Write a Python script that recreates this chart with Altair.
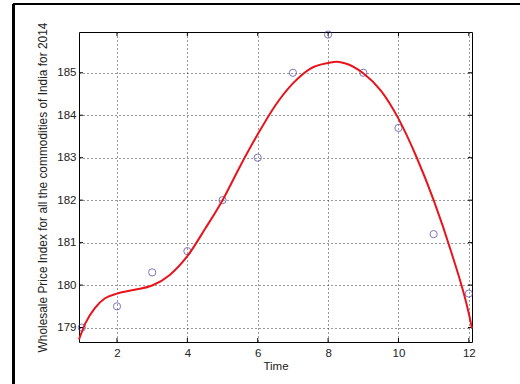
import altair as alt
import pandas as pd

# Observed data (circles)
months = [1, 2, 3, 4, 5, 6, 7, 8, 9, 10, 11, 12]
wpi = [179.0, 179.5, 180.3, 180.8, 182.0, 183.0, 185.0, 185.9, 185.0, 183.7, 181.2, 179.8]

# Fitted curve
curve_x = [0.92, 1.10, 1.37, 1.66, 2.0, 2.5, 3.0, 3.5, 4.0, 4.5, 5.0, 5.5, 6.0, 6.5,
           7.0, 7.5, 8.0, 8.25, 8.5, 9.0, 9.5, 10.0, 10.5, 11.0, 11.5, 12.0, 12.09]
curve_y = [178.72, 179.10, 179.46, 179.69, 179.80, 179.89, 179.99, 180.24, 180.68, 181.32,
           182.0, 182.80, 183.55, 184.23, 184.75, 185.10, 185.23, 185.26, 185.22, 184.99,
           184.58, 183.92, 183.04, 182.0, 180.78, 179.33, 178.98]

x_ticks = [2, 4, 6, 8, 10, 12]
y_ticks = [179, 180, 181, 182, 183, 184, 185]

W, H = 393, 310
FONT = "Liberation Sans"

pts = pd.DataFrame({"Time": months, "WPI": wpi})
fit = pd.DataFrame({"Time": curve_x, "WPI": curve_y})
xt = pd.DataFrame({"t": x_ticks})
yt = pd.DataFrame({"t": y_ticks})

xs = alt.Scale(domain=[0.92, 12.09], nice=False, zero=False)
ys = alt.Scale(domain=[178.66, 185.96], nice=False, zero=False)

ytitle = "Wholesale Price Index for all the commodities of India for 2014"

points = alt.Chart(pts).mark_point(
    shape="circle", filled=False, color="#4a3aa6", size=52, strokeWidth=1
).encode(
    x=alt.X("Time:Q", scale=xs, axis=alt.Axis(
        values=x_ticks, title="Time", grid=True, gridColor="#333", gridDash=[1, 3],
        gridWidth=1, ticks=False, domain=False, labelFont=FONT, labelFontSize=11.5,
        labelColor="#222", labelPadding=5, titleFont=FONT, titleFontSize=11.5,
        titleFontWeight="normal", titleColor="#222", titlePadding=2)),
    y=alt.Y("WPI:Q", scale=ys, axis=alt.Axis(
        values=y_ticks, title=ytitle, grid=True, gridColor="#333", gridDash=[1, 3],
        gridWidth=1, ticks=False, domain=False, labelFont=FONT, labelFontSize=11.5,
        labelColor="#222", labelPadding=3, titleFont=FONT, titleFontSize=11.9,
        titleFontWeight="normal", titleColor="#222", titlePadding=8)),
)

line = alt.Chart(fit).mark_line(color="#e8141b", strokeWidth=2, interpolate="monotone").encode(
    x=alt.X("Time:Q", scale=xs),
    y=alt.Y("WPI:Q", scale=ys),
)

# inward ticks on all four sides
xtick_b = alt.Chart(xt).mark_rule(color="black", strokeWidth=1).encode(
    x=alt.X("t:Q", scale=xs), y=alt.value(H), y2=alt.value(H - 4))
xtick_t = alt.Chart(xt).mark_rule(color="black", strokeWidth=1).encode(
    x=alt.X("t:Q", scale=xs), y=alt.value(0), y2=alt.value(4))
ytick_l = alt.Chart(yt).mark_rule(color="black", strokeWidth=1).encode(
    y=alt.Y("t:Q", scale=ys), x=alt.value(0), x2=alt.value(4))
ytick_r = alt.Chart(yt).mark_rule(color="black", strokeWidth=1).encode(
    y=alt.Y("t:Q", scale=ys), x=alt.value(W), x2=alt.value(W - 4))

# outer figure frame (top and left edges)
frame_top = alt.Chart(pts).mark_rule(color="black", strokeWidth=2).encode(
    x=alt.value(-66), x2=alt.value(W + 100), y=alt.value(-28))
frame_left = alt.Chart(pts).mark_rule(color="black", strokeWidth=2.5).encode(
    x=alt.value(-65.7), y=alt.value(-28), y2=alt.value(H + 100))

chart = alt.layer(
    points, xtick_b, xtick_t, ytick_l, ytick_r, line, frame_top, frame_left
).properties(
    width=W, height=H,
    padding={"left": 79, "top": 32, "right": 48, "bottom": 42},
    autosize=alt.AutoSizeParams(type="none"),
    background="white",
).configure_view(stroke="black", strokeWidth=1, clip=False)

chart.save("out.html", embed_options={"renderer": "svg", "actions": False})
